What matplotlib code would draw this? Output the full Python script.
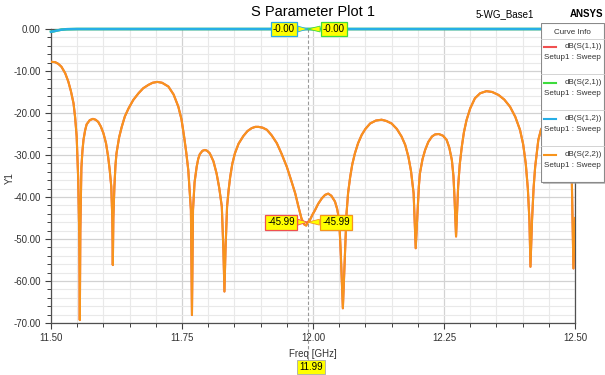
import matplotlib
matplotlib.use("Agg")
import matplotlib.pyplot as plt
from matplotlib.ticker import MultipleLocator, FormatStrFormatter
from matplotlib.patches import Rectangle

plt.rcParams["font.family"] = ["Liberation Sans", "DejaVu Sans"]

# S(2,2) / S(1,1) return loss
freq_s22 = [
    11.500, 11.508, 11.514, 11.520, 11.527, 11.533, 11.538, 11.543, 11.546, 11.549,
    11.552, 11.554, 11.555, 11.556, 11.558, 11.560, 11.562, 11.565, 11.568, 11.574,
    11.580, 11.585, 11.590, 11.595, 11.600, 11.605, 11.609, 11.612, 11.615, 11.617,
    11.618, 11.619, 11.621, 11.623, 11.625, 11.630, 11.635, 11.641, 11.648, 11.657,
    11.667, 11.676, 11.686, 11.694, 11.703, 11.712, 11.724, 11.734, 11.743, 11.749,
    11.754, 11.758, 11.762, 11.767, 11.769, 11.771, 11.774, 11.778, 11.781, 11.784,
    11.789, 11.794, 11.798, 11.803, 11.810, 11.816, 11.821, 11.826, 11.829, 11.831,
    11.833, 11.836, 11.839, 11.842, 11.846, 11.851, 11.858, 11.867, 11.875, 11.883,
    11.890, 11.896, 11.904, 11.912, 11.921, 11.931, 11.940, 11.950, 11.958, 11.966,
    11.972, 11.978, 11.983, 11.987, 11.990, 11.994, 11.999, 12.004, 12.010, 12.017,
    12.023, 12.029, 12.035, 12.042, 12.046, 12.050, 12.053, 12.057, 12.061, 12.064,
    12.067, 12.071, 12.075, 12.080, 12.086, 12.093, 12.100, 12.109, 12.120, 12.131,
    12.140, 12.150, 12.160, 12.169, 12.176, 12.182, 12.187, 12.192, 12.196, 12.200,
    12.202, 12.204, 12.209, 12.214, 12.220, 12.227, 12.233, 12.240, 12.248, 12.255,
    12.260, 12.265, 12.268, 12.270, 12.273, 12.277, 12.280, 12.284, 12.288, 12.293,
    12.300, 12.309, 12.319, 12.331, 12.342, 12.354, 12.365, 12.376, 12.386, 12.395,
    12.401, 12.406, 12.410, 12.413, 12.415, 12.418, 12.421, 12.424, 12.430, 12.435,
    12.448, 12.460, 12.474, 12.486, 12.494, 12.497, 12.500,
]
db_s22 = [
    -7.8, -7.9, -8.3, -9.0, -10.5, -12.5, -14.8, -17.7, -21.0, -25.6,
    -36.0, -50.0, -69.3, -48.0, -33.0, -29.0, -26.4, -24.2, -22.7, -21.7,
    -21.4, -21.6, -22.1, -23.2, -24.8, -27.2, -30.4, -33.5, -37.5, -45.0,
    -56.2, -45.0, -37.5, -32.5, -29.6, -25.8, -23.3, -20.8, -18.9, -16.9,
    -15.3, -14.1, -13.3, -12.8, -12.6, -12.8, -13.7, -15.6, -18.5, -21.5,
    -25.6, -29.3, -33.6, -43.1, -68.1, -43.1, -36.5, -32.8, -30.9, -29.8,
    -29.0, -28.8, -29.0, -29.6, -31.5, -34.4, -37.8, -42.3, -52.6, -62.5,
    -52.6, -42.3, -38.3, -35.2, -32.1, -29.6, -27.3, -25.5, -24.3, -23.6,
    -23.3, -23.3, -23.5, -24.0, -25.3, -27.2, -29.7, -32.8, -35.9, -39.1,
    -42.2, -45.1, -46.5, -46.8, -46.0, -45.5, -44.2, -43.1, -41.6, -40.3,
    -39.5, -39.2, -39.7, -41.1, -42.8, -45.5, -53.4, -66.5, -53.4, -43.9,
    -39.0, -35.2, -32.2, -29.6, -27.2, -25.2, -23.8, -22.5, -21.8, -21.6,
    -21.9, -22.5, -23.8, -25.6, -27.6, -30.4, -33.8, -39.1, -52.2, -42.3,
    -37.5, -34.4, -31.0, -28.8, -26.9, -25.6, -25.1, -25.0, -25.4, -26.4,
    -28.2, -31.2, -35.0, -40.0, -49.4, -37.5, -32.3, -28.0, -24.6, -21.7,
    -18.9, -16.5, -15.3, -14.8, -15.0, -15.7, -16.8, -18.5, -20.9, -24.0,
    -27.4, -32.0, -38.0, -45.5, -56.6, -45.5, -37.8, -32.8, -26.4, -24.0,
    -21.0, -20.5, -22.5, -28.5, -36.4, -57.0, -45.0,
]

# S(1,2) / S(2,1) insertion loss
freq_s21 = [11.500, 11.505, 11.510, 11.520, 11.530, 11.550, 12.500]
db_s21 = [-0.65, -0.55, -0.40, -0.15, -0.05, 0.0, 0.0]

marker_freq = 11.99
marker_s21 = "-0.00"
marker_s22 = "-45.99"
marker_s22_val = -45.99

curve_names = ["dB(S(1,1))", "dB(S(2,1))", "dB(S(1,2))", "dB(S(2,2))"]
curve_colors = ["#f05050", "#3ddc3d", "#27aee6", "#f7941d"]

W, H = 605, 375


def fx(x):
    return x / W


def fy(y):
    return 1 - y / H


fig = plt.figure(figsize=(W / 100, H / 100), dpi=100)
ax = fig.add_axes([fx(51), fy(323), fx(575) - fx(51), fy(29) - fy(323)])

ax.plot(freq_s22, db_s22, color=curve_colors[0], lw=1.5, zorder=3)
ax.plot(freq_s21, db_s21, color=curve_colors[1], lw=1.8, zorder=3, clip_on=False)
ax.plot(freq_s21, db_s21, color=curve_colors[2], lw=1.8, zorder=4, clip_on=False)
ax.plot(freq_s22, db_s22, color=curve_colors[3], lw=1.5, zorder=4)

ax.set_xlim(11.5, 12.5)
ax.set_ylim(-70, 0)
ax.xaxis.set_major_locator(MultipleLocator(0.25))
ax.xaxis.set_minor_locator(MultipleLocator(0.05))
ax.yaxis.set_major_locator(MultipleLocator(10))
ax.yaxis.set_minor_locator(MultipleLocator(2))
ax.xaxis.set_major_formatter(FormatStrFormatter("%.2f"))
ax.yaxis.set_major_formatter(FormatStrFormatter("%.2f"))
ax.grid(which="major", color="#d2d2d2", lw=0.9, zorder=0)
ax.grid(which="minor", color="#e9e9e9", lw=0.8, zorder=0)
ax.set_axisbelow(True)
ax.tick_params(which="major", length=4.5, width=0.8, color="#404040",
               labelsize=7, labelcolor="#333333", pad=3)
ax.tick_params(which="minor", length=3, width=0.7, color="#404040")
for s in ax.spines.values():
    s.set_color("#505050")
    s.set_linewidth(0.9)

ax.set_xlabel("Freq [GHz]", fontsize=7, color="#333333", labelpad=4)
fig.text(fx(10), fy(178), "Y1", fontsize=7, color="#333333", rotation=90,
         ha="center", va="center")

# marker line and readouts
ax.axvline(marker_freq, ymin=-0.125, ymax=1, color="#999999", lw=0.8,
           ls=(0, (3, 2)), clip_on=False, zorder=2)
fig.text(fx(311), fy(367), f"{marker_freq:.2f}", fontsize=7, ha="center", va="center",
         bbox=dict(boxstyle="square,pad=0.2", fc="#ffff00", ec="#aaaaaa", lw=0.6))


def flag(text, x_text, y_val, y_pt, edge):
    ax.annotate(text, xy=(marker_freq, y_pt), xytext=(x_text, y_val),
                fontsize=7, ha="center", va="center", zorder=6,
                bbox=dict(boxstyle="square,pad=0.25", fc="#ffff00", ec=edge, lw=0.9),
                arrowprops=dict(arrowstyle="wedge,tail_width=0.6", fc="#ffff00",
                                ec=edge, lw=0.6, shrinkA=0, shrinkB=0),
                annotation_clip=False)


flag(marker_s21, 11.9447, 0.0, 0.0, curve_colors[2])
flag(marker_s21, 12.040, 0.0, 0.0, curve_colors[1])
flag(marker_s22, 11.939, marker_s22_val, marker_s22_val, curve_colors[0])
flag(marker_s22, 12.044, marker_s22_val, marker_s22_val, curve_colors[3])

# titles
fig.text(fx(313), fy(12), "S Parameter Plot 1", fontsize=10.5, ha="center", va="center")
fig.text(fx(505), fy(14), "5-WG_Base1", fontsize=7, ha="center", va="center")
fig.text(fx(603), fy(14), "ANSYS", fontsize=7, ha="right", va="center", weight="bold")

# curve info box
lg = fig.add_axes([fx(541), fy(185), fx(605) - fx(541), fy(23) - fy(185)], zorder=10)
lg.set_xlim(541, 605)
lg.set_ylim(185, 23)
lg.axis("off")
lg.add_patch(Rectangle((543, 25), 62, 159, fc="#9a9a9a", ec="none", alpha=0.6))
lg.add_patch(Rectangle((541, 23), 63, 159, fc="white", ec="#8a8a8a", lw=0.8))
lg.text(572.5, 32.5, "Curve Info", fontsize=5.8, ha="center", va="center", color="#333333")
lg.plot([541, 604], [39, 39], color="#cccccc", lw=0.6)
row_y = [46.5, 82.5, 118.5, 154.5]
for i, (name, col) in enumerate(zip(curve_names, curve_colors)):
    y0 = row_y[i]
    lg.plot([544, 556], [y0, y0], color=col, lw=1.5)
    lg.text(602, y0, name, fontsize=5.8, ha="right", va="center", color="#333333")
    lg.text(544, y0 + 11, "Setup1 : Sweep", fontsize=5.8, ha="left", va="center",
            color="#333333")
    if i < 3:
        lg.plot([541, 604], [y0 + 27.5, y0 + 27.5], color="#cccccc", lw=0.6)

fig.savefig("out.png", dpi=100)
